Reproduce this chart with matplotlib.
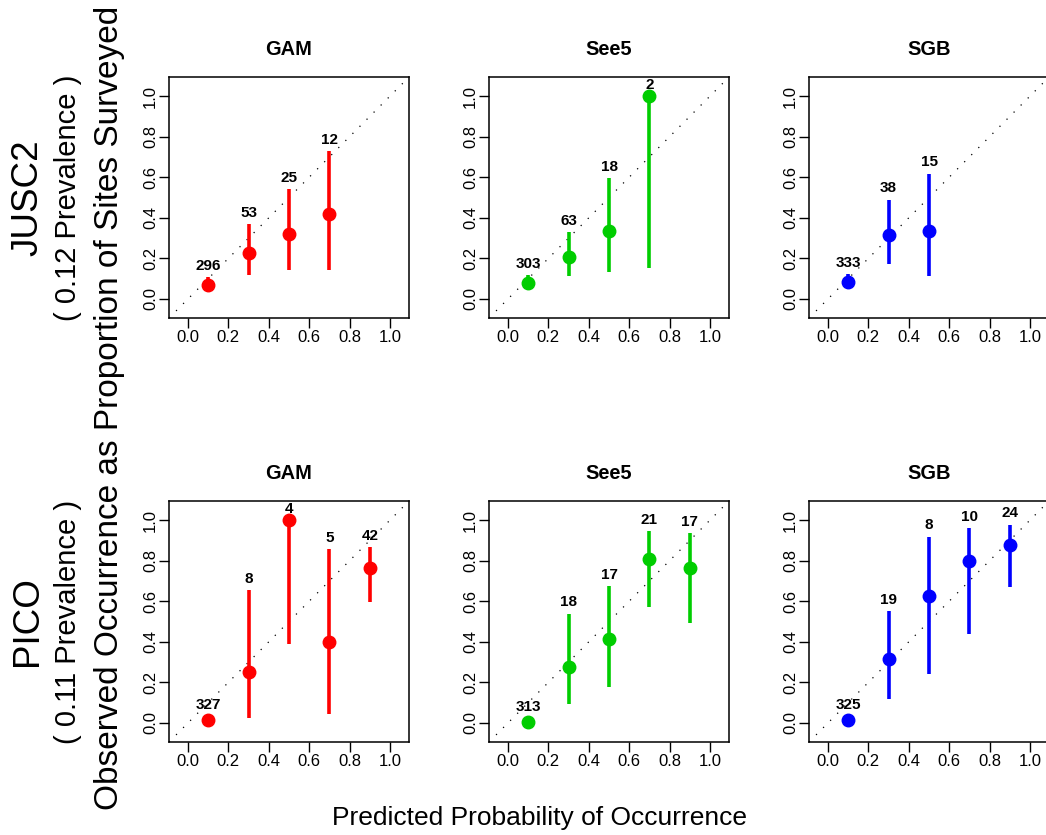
import matplotlib
matplotlib.use("Agg")
from matplotlib import pyplot as plt

plt.rcParams['font.family'] = ['Liberation Sans', 'DejaVu Sans']

# predicted probability bins (x values)
bins = [0.1, 0.3, 0.5, 0.7, 0.9]

model_names = ["GAM", "See5", "SGB"]
model_colors = ["#FF0000", "#00CD00", "#0000FF"]

species = ["JUSC2", "PICO"]
prevalence = ["( 0.12 Prevalence )", "( 0.11 Prevalence )"]

# JUSC2 - observed proportion, lower / upper bounds, site counts
jusc2_gam_obs = [0.068, 0.226, 0.32, 0.417]
jusc2_gam_lo = [0.04, 0.12, 0.145, 0.145]
jusc2_gam_hi = [0.106, 0.367, 0.54, 0.729]
jusc2_gam_n = [296, 53, 25, 12]

jusc2_see5_obs = [0.079, 0.206, 0.333, 1.0]
jusc2_see5_lo = [0.05, 0.112, 0.132, 0.153]
jusc2_see5_hi = [0.118, 0.331, 0.594, 1.0]
jusc2_see5_n = [303, 63, 18, 2]

jusc2_sgb_obs = [0.084, 0.316, 0.333]
jusc2_sgb_lo = [0.055, 0.173, 0.115]
jusc2_sgb_hi = [0.121, 0.49, 0.618]
jusc2_sgb_n = [333, 38, 15]

# PICO
pico_gam_obs = [0.012, 0.25, 1.0, 0.4, 0.762]
pico_gam_lo = [0.003, 0.025, 0.391, 0.046, 0.597]
pico_gam_hi = [0.031, 0.655, 1.0, 0.855, 0.868]
pico_gam_n = [327, 8, 4, 5, 42]

pico_see5_obs = [0.006, 0.278, 0.412, 0.81, 0.765]
pico_see5_lo = [0.0, 0.092, 0.178, 0.572, 0.493]
pico_see5_hi = [0.023, 0.539, 0.674, 0.947, 0.934]
pico_see5_n = [313, 18, 17, 21, 17]

pico_sgb_obs = [0.012, 0.316, 0.625, 0.8, 0.875]
pico_sgb_lo = [0.003, 0.118, 0.24, 0.44, 0.671]
pico_sgb_hi = [0.031, 0.551, 0.918, 0.962, 0.978]
pico_sgb_n = [325, 19, 8, 10, 24]

panels = [
    [(jusc2_gam_obs, jusc2_gam_lo, jusc2_gam_hi, jusc2_gam_n),
     (jusc2_see5_obs, jusc2_see5_lo, jusc2_see5_hi, jusc2_see5_n),
     (jusc2_sgb_obs, jusc2_sgb_lo, jusc2_sgb_hi, jusc2_sgb_n)],
    [(pico_gam_obs, pico_gam_lo, pico_gam_hi, pico_gam_n),
     (pico_see5_obs, pico_see5_lo, pico_see5_hi, pico_see5_n),
     (pico_sgb_obs, pico_sgb_lo, pico_sgb_hi, pico_sgb_n)],
]

W, H = 1046, 835
fig = plt.figure(figsize=(W / 100, H / 100), dpi=100)

lims = (-0.094, 1.094)
ticks = [0, 0.2, 0.4, 0.6, 0.8, 1.0]
box_left = [169, 489, 809]
box_top = [77, 501]
box_w, box_h = 240, 241

for r in range(2):
    for c in range(3):
        ax = fig.add_axes([box_left[c] / W, 1 - (box_top[r] + box_h) / H, box_w / W, box_h / H])
        obs, lo, hi, n = panels[r][c]
        x = bins[:len(obs)]
        col = model_colors[c]
        ax.plot(lims, lims, color="black", lw=0.9, linestyle=(0, (1, 7)), zorder=1)
        ax.vlines(x, lo, hi, color=col, lw=2.6, zorder=2)
        ax.plot(x, obs, "o", color=col, markersize=9, zorder=3)
        for xi, hv, ni in zip(x, hi, n):
            ax.annotate(str(ni), (xi, hv), xytext=(0, 5.2), textcoords="offset points",
                        ha="center", va="baseline", fontsize=11, fontweight="bold",
                        annotation_clip=False)
        ax.set_xlim(lims)
        ax.set_ylim(lims)
        ax.set_xticks(ticks)
        ax.set_yticks(ticks)
        ax.set_xticklabels(["%.1f" % t for t in ticks])
        ax.set_yticklabels(["%.1f" % t for t in ticks])
        ax.tick_params(length=7, width=1, labelsize=12, direction="out")
        ax.tick_params(axis="x", pad=1.5)
        ax.tick_params(axis="y", pad=1.0)
        for lab in ax.get_yticklabels():
            lab.set_rotation(90)
            lab.set_va("center")
        for s in ax.spines.values():
            s.set_linewidth(1.1)
        ax.set_title(model_names[c], fontsize=14.4, fontweight="bold", pad=16)

    yc = 1 - (box_top[r] + box_h / 2) / H
    fig.text(28 / W, yc, species[r], rotation=90, fontsize=26.5, ha="center", va="center")
    fig.text(68 / W, yc, prevalence[r], rotation=90, fontsize=21, ha="center", va="center")

fig.text(110 / W, 1 - 408 / H, "Observed Occurrence as Proportion of Sites Surveyed",
         rotation=90, fontsize=24, ha="center", va="center")
fig.text(540 / W, 1 - 818 / H, "Predicted Probability of Occurrence",
         fontsize=19, ha="center", va="center")

fig.savefig("out.png", dpi=100)
